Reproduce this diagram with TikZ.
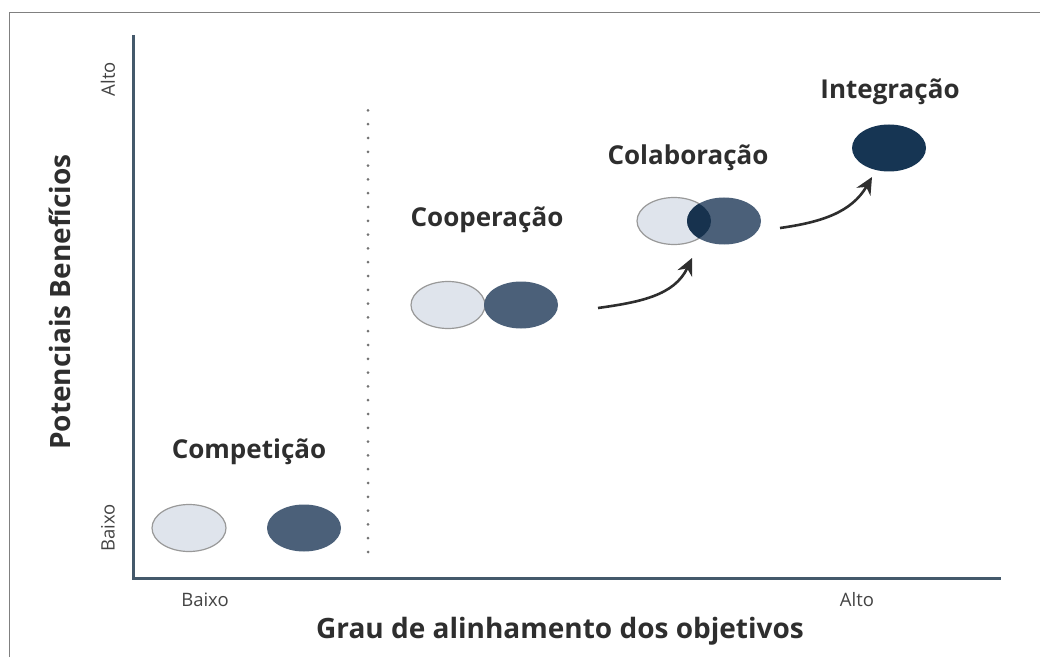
\documentclass[tikz,border=0pt]{standalone}
\usepackage{fontspec}
\setmainfont{Open Sans}
\usepackage{tikz}
\usetikzlibrary{shapes.geometric,arrows.meta}
\definecolor{axisc}{HTML}{44596B}
\definecolor{lightc}{HTML}{DFE4EC}
\definecolor{darkc}{HTML}{4B6079}
\definecolor{overc}{HTML}{17324E}
\definecolor{integc}{HTML}{163553}
\definecolor{textc}{HTML}{2E2E2E}
\begin{document}
\begin{tikzpicture}[x=1pt,y=1pt,
	blob/.style={ellipse,minimum width=74pt,minimum height=47pt,inner sep=0pt},
	lightblob/.style={blob,fill=lightc,draw=gray!80,line width=1.2pt},
	darkblob/.style={blob,fill=darkc},
	stage/.style={font=\bfseries\fontsize{26}{31}\selectfont,text=textc},
	tick/.style={font=\fontsize{18.5}{22}\selectfont,text=textc!90},
	axistitle/.style={font=\bfseries\fontsize{28}{33}\selectfont,text=textc},
	curved/.style={line width=2.6pt,textc,-{Stealth[length=17pt,width=16pt]}}]
	\useasboundingbox (0,0) rectangle (1040,657);
	\draw[gray,line width=1pt] (9,0) -- (9,644) -- (1040,644);
	\coordinate (origin) at (133,79);
	\coordinate (ytop) at (133,622);
	\coordinate (xend) at (1001,79);
	\draw[axisc,line width=3pt] (ytop) -- (origin) -- (xend);
	\coordinate (sepbot) at (368,105);
	\coordinate (septop) at (368,547);
	\draw[gray!90!black,line width=3pt,line cap=round,dash pattern=on 0pt off 13.8pt] (sepbot) -- (septop);
	\node[tick,rotate=90] (yhigh) at (108,578) {Alto};
	\node[tick,rotate=90] (ylow) at (108,129) {Baixo};
	\node[tick] (xlow) at (205,57) {Baixo};
	\node[tick] (xhigh) at (857,57) {Alto};
	\node[axistitle,rotate=90] (ytitle) at (60,355) {Potenciais Benefícios};
	\node[axistitle] (xtitle) at (560,26) {Grau de alinhamento dos objetivos};
	\node[stage] (comp) at (249,205) {Competição};
	\node[stage] (coop) at (487,437) {Cooperação};
	\node[stage] (colab) at (688,499) {Colaboração};
	\node[stage] (integ) at (890,565) {Integração};
	\node[lightblob] (compL) at (189,129) {};
	\node[darkblob] (compD) at (304,129) {};
	\node[lightblob] (coopL) at (448,352) {};
	\node[darkblob] (coopD) at (521,352) {};
	\node[lightblob] (colabL) at (674,436) {};
	\node[darkblob] (colabD) at (724,436) {};
	\begin{scope}
		\clip (colabL.center) ellipse [x radius=37pt,y radius=23.5pt];
		\fill[overc] (colabD.center) ellipse [x radius=37pt,y radius=23.5pt];
	\end{scope}
	\node[blob,fill=integc] (integL) at (889,509) {};
	\coordinate (arrA) at (598,349);
	\coordinate (arrB) at (692,399);
	\coordinate (arrC) at (780,429);
	\coordinate (arrD) at (872,480);
	\draw[curved] (arrA) to[out=8,in=-115] (arrB);
	\draw[curved] (arrC) to[out=8,in=-120] (arrD);
\end{tikzpicture}
\end{document}
